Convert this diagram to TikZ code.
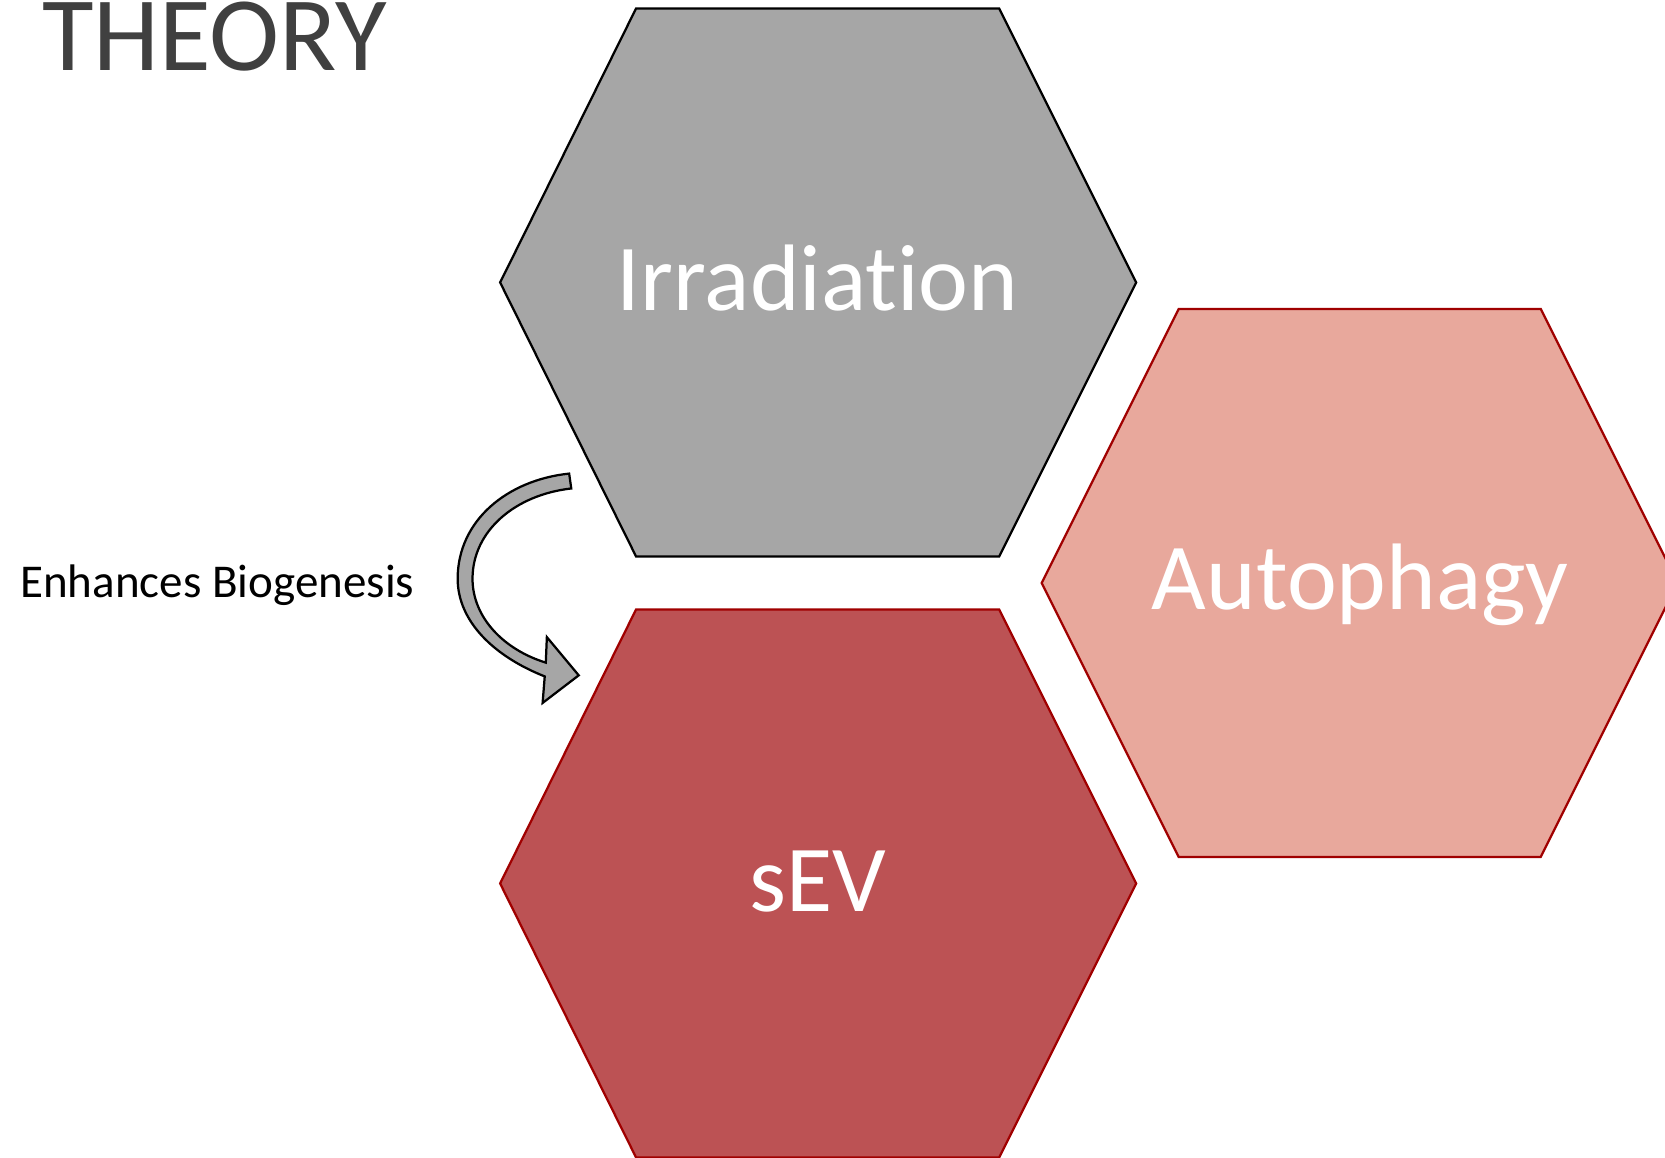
\documentclass[tikz,border=0pt]{standalone}
\usepackage{fontspec}
\setmainfont{Carlito}[Ligatures=NoCommon]
\usepackage{xcolor}
\usetikzlibrary{positioning}
\definecolor{darkgraytext}{HTML}{404040}
\definecolor{irrgray}{HTML}{A6A6A6}
\definecolor{sevred}{HTML}{BC5254}
\definecolor{autopink}{HTML}{E8A89C}
\definecolor{hexedge}{HTML}{A00000}
\tikzset{
  hexlabel/.style={text=white,font=\fontsize{25.3}{30}\selectfont,anchor=base},
}

\begin{document}
\begin{tikzpicture}[x=0.01cm,y=-0.01cm,line width=0.6pt]
      \useasboundingbox (0,0) rectangle (1568,1090);
      \node[text=darkgraytext,font=\fontsize{28.3}{34}\selectfont,anchor=base west,inner sep=0pt] (theory) at (39,66) {THEORY};
      \draw[fill=irrgray,draw=black] (471,266) -- (599,8) -- (941,8) -- (1070,266) -- (941,524) -- (599,524) -- cycle;
      \draw[fill=sevred,draw=hexedge] (471,832) -- (599,574) -- (941,574) -- (1070,832) -- (941,1090) -- (599,1090) -- cycle;
      \draw[fill=autopink,draw=hexedge] (981,549) -- (1110,291) -- (1451,291) -- (1580,549) -- (1451,807) -- (1110,807) -- cycle;
      \node[hexlabel] (irr) at (770,292) {Irradiation};
      \node[hexlabel] (sev) at (770,858) {sEV};
      \node[hexlabel] (auto) at (1281,574) {Autophagy};
      \draw[fill=irrgray,draw=black,line join=miter] (538,460) -- (536,446)
        .. controls (478,452) and (431,490) .. (431,545)
        .. controls (431,585) and (465,618) .. (513,637)
        -- (511,662) -- (545,636) -- (515,600) -- (514,624)
        .. controls (475,612) and (445,582) .. (445,545)
        .. controls (445,500) and (485,466) .. cycle;
      \node[font=\fontsize{12.6}{16}\selectfont,anchor=base west,inner sep=0pt] (bio) at (18,563) {Enhances Biogenesis};
    \end{tikzpicture}
\end{document}
